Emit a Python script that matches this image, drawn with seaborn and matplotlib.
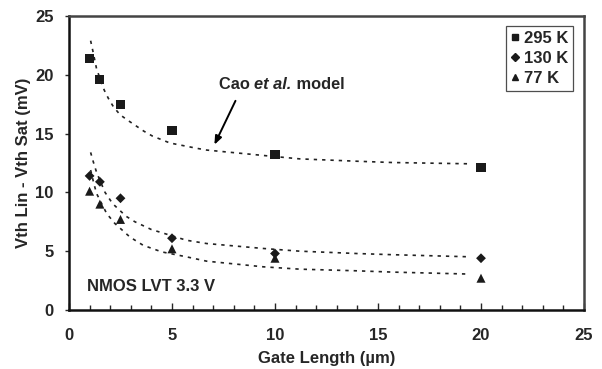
import numpy as np
import pandas as pd
import matplotlib
matplotlib.use("Agg")
import matplotlib.pyplot as plt
from matplotlib.ticker import MultipleLocator
from matplotlib.offsetbox import TextArea, HPacker, AnchoredOffsetbox
import seaborn as sns

# measured points (gate length in um, Vth Lin - Vth Sat in mV)
gate_length = [1, 1.5, 2.5, 5, 10, 20]
v_295k = [21.4, 19.6, 17.5, 15.3, 13.2, 12.1]
v_130k = [11.4, 10.9, 9.5, 6.1, 4.8, 4.4]
v_77k = [10.1, 9.0, 7.7, 5.2, 4.4, 2.7]

# Cao et al. model curves
model_295_x = [1.05, 1.15, 1.34, 1.71, 1.91, 2.15, 2.48, 2.88, 3.64, 4.04, 4.9, 6.2, 6.68, 9.43, 11.2, 13.97, 15.7, 19.47]
model_295_y = [22.9, 22.1, 20.5, 18.7, 18.0, 17.3, 16.6, 16.1, 15.2, 14.8, 14.2, 13.75, 13.6, 13.14, 12.85, 12.65, 12.54, 12.43]
model_130_x = [1.05, 1.18, 1.34, 1.75, 2.12, 2.77, 3.2, 4.0, 4.9, 5.7, 6.68, 9.43, 11.2, 13.97, 15.7, 19.47]
model_130_y = [13.4, 12.6, 11.7, 10.0, 9.04, 7.97, 7.5, 6.84, 6.36, 5.93, 5.65, 5.23, 5.0, 4.8, 4.7, 4.52]
model_77_x = [1.05, 1.2, 1.34, 1.83, 2.23, 2.96, 3.6, 4.5, 5.7, 6.68, 9.43, 11.2, 13.97, 15.7, 19.47]
model_77_y = [11.9, 10.8, 9.9, 8.2, 7.35, 6.2, 5.5, 4.94, 4.52, 4.15, 3.67, 3.47, 3.33, 3.22, 3.05]

series = [("295 K", v_295k, "s", 6.5), ("130 K", v_130k, "D", 5), ("77 K", v_77k, "^", 6.5)]
models = [(model_295_x, model_295_y), (model_130_x, model_130_y), (model_77_x, model_77_y)]

sns.set_style("white")
plt.rcParams['font.family'] = ['Liberation Sans', 'DejaVu Sans']
plt.rcParams['font.weight'] = 'bold'

fig = plt.figure(figsize=(6.02, 3.69), dpi=100)
ax = fig.add_axes([0.1146, 0.160, 0.8555, 0.7966])

# dotted model lines
for mx, my in models:
    df = pd.DataFrame({"L": mx, "V": my})
    sns.lineplot(data=df, x="L", y="V", ax=ax, color="#222222", lw=1.2,
                 linestyle=(0, (2, 3)), sort=False, legend=False)

handles = []
for label, vals, marker, ms in series:
    df = pd.DataFrame({"L": gate_length, "V": vals})
    sns.scatterplot(data=df, x="L", y="V", ax=ax, marker=marker, s=ms ** 2,
                    color="#1a1a1a", edgecolor="none", zorder=3)
    handles.append(plt.Line2D([], [], ls="none", marker=marker, color="#1a1a1a",
                              markersize=ms * 0.75, label=label))

ax.set_xlim(0, 25)
ax.set_ylim(0, 25)
ax.xaxis.set_major_locator(MultipleLocator(5))
ax.xaxis.set_minor_locator(MultipleLocator(1))
ax.yaxis.set_major_locator(MultipleLocator(5))

ax.tick_params(axis="x", which="major", direction="in", length=5, width=1, pad=13,
               labelsize=12, bottom=True)
ax.tick_params(axis="x", which="minor", direction="in", length=3.5, width=1, bottom=True)
ax.tick_params(axis="y", which="major", direction="out", length=3, width=1, pad=8,
               labelsize=12, left=True)
for lab in ax.get_xticklabels() + ax.get_yticklabels():
    lab.set_fontweight("bold")

for side in ["left", "bottom"]:
    ax.spines[side].set_color("#111111")
    ax.spines[side].set_linewidth(1.8)
for side in ["top", "right"]:
    ax.spines[side].set_color("#444444")
    ax.spines[side].set_linewidth(1.8)

ax.set_xlabel("Gate Length (µm)", fontsize=12, fontweight="bold", labelpad=6)
ax.set_ylabel("Vth Lin - Vth Sat (mV)", fontsize=12, fontweight="bold", labelpad=3)

ax.text(0.86, 1.97, "NMOS LVT 3.3 V", fontsize=12, fontweight="bold", va="center", ha="left")

# "Cao et al. model" with the italic part
parts = [TextArea("Cao ", textprops=dict(size=11.8, weight="bold")),
         TextArea("et al.", textprops=dict(size=11.8, weight="bold", style="italic")),
         TextArea(" model", textprops=dict(size=11.8, weight="bold"))]
box = HPacker(children=parts, pad=0, sep=0, align="baseline")
anch = AnchoredOffsetbox(loc="center left", child=box, frameon=False, pad=0,
                         bbox_to_anchor=(7.28, 19.2), bbox_transform=ax.transData,
                         borderpad=0)
ax.add_artist(anch)
ax.annotate("", xy=(7.0, 13.84), xytext=(8.14, 18.0),
            arrowprops=dict(arrowstyle="-|>,head_length=0.5,head_width=0.2", color="black", lw=1.4))

leg = ax.legend(handles=handles, loc="upper right", bbox_to_anchor=(0.979, 0.966),
                borderaxespad=0, frameon=True, fancybox=False, handlelength=0.5,
                handletextpad=0.25, labelspacing=0.3, borderpad=0.3,
                prop={"weight": "bold", "size": 12})
leg.get_frame().set_edgecolor("#222222")
leg.get_frame().set_linewidth(0.9)

fig.savefig("out.png", dpi=100)
